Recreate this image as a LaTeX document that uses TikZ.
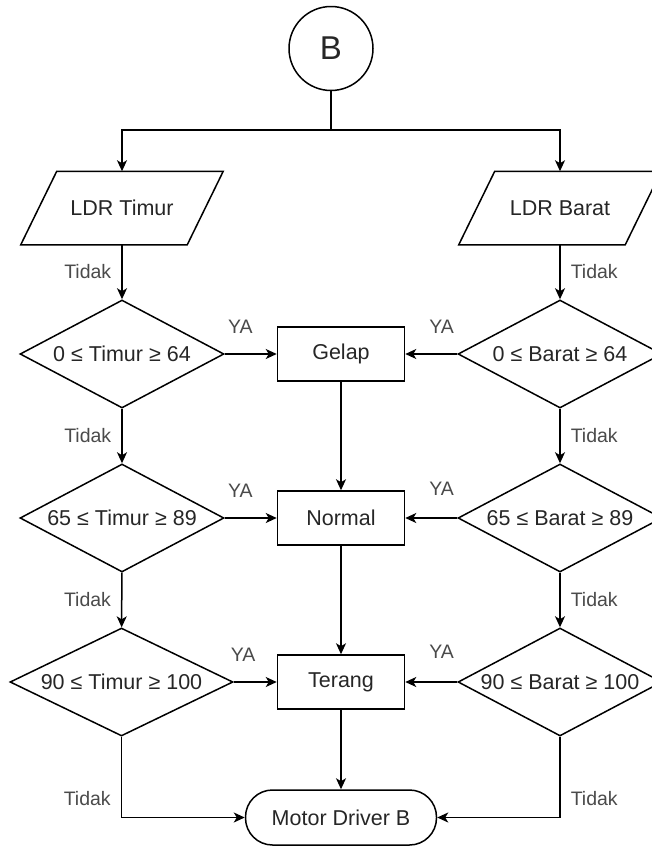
\documentclass[tikz,border=0pt]{standalone}
\usepackage{fontspec}
\setmainfont{Liberation Sans}
\usetikzlibrary{shapes.geometric, arrows.meta}

\definecolor{txt}{HTML}{262626}
\definecolor{lbl}{HTML}{4A4A4A}

\begin{document}
\begin{tikzpicture}[x=1pt, y=-1pt,
  line width=1.5pt,
  every node/.style={font=\fontsize{21.5}{25}\selectfont, text=txt},
  flow/.style={-{Stealth[length=11pt, width=10pt, inset=3pt]}},
  proc/.style={draw, rectangle, minimum width=127pt, minimum height=54pt, inner sep=0pt},
  decide/.style={draw, diamond, minimum width=204pt, minimum height=108pt, inner sep=0pt, aspect=1.9},
  io/.style={rectangle, minimum width=165pt, minimum height=72pt, inner sep=0pt},
  term/.style={draw, rectangle, rounded corners=27pt, minimum width=191pt, minimum height=55pt, inner sep=0pt},
  conn/.style={draw, circle, minimum size=84pt, inner sep=0pt, font=\fontsize{33}{36}\selectfont},
  lab/.style={font=\fontsize{19.5}{21}\selectfont, text=lbl, inner sep=0pt},
]
\clip (0,0) rectangle (652,847);

% connector and inputs
\node[conn] (B) at (331,48.5) {B};
\coordinate (split) at (331,130);

\node[io] (ldrT) at (122,208) {LDR Timur};
\node[io] (ldrB) at (560,208) {LDR Barat};
\foreach \n in {ldrT, ldrB}
  \draw ([xshift=-18pt]\n.south west) -- ([xshift=-18pt]\n.south east)
        -- ([xshift=18pt]\n.north east) -- ([xshift=18pt]\n.north west) -- cycle;

% decisions, east side
\node[decide] (d1T) at (122,354) {0 ≤ Timur ≥ 64};
\node[decide] (d2T) at (122,518) {65 ≤ Timur ≥ 89};
\node[decide, minimum width=223pt, aspect=2.06] (d3T) at (121.5,682) {90 ≤ Timur ≥ 100};

% decisions, west side
\node[decide] (d1B) at (560,354) {0 ≤ Barat ≥ 64};
\node[decide] (d2B) at (560,518) {65 ≤ Barat ≥ 89};
\node[decide] (d3B) at (560,682) {90 ≤ Barat ≥ 100};

% light levels and output
\node[proc] (gelap) at (341,354) {Gelap};
\node[proc] (normal) at (341,518) {Normal};
\node[proc] (terang) at (341,682) {Terang};
\node[term] (motor) at (341,817.5) {Motor Driver B};

% split from the connector
\draw (B) -- (split);
\draw[flow] (split) -| (ldrT);
\draw[flow] (split) -| (ldrB);

% east chain
\draw[flow] (ldrT) -- node[lab, left=10pt] {Tidak} (d1T);
\draw[flow] (d1T) -- node[lab, left=10pt] {Tidak} (d2T);
\draw[flow] (d2T) -- node[lab, left=10pt] {Tidak} (d3T);
\draw[flow] (d3T) |- node[lab, pos=0.38, left=10pt] {Tidak} (motor);

% west chain
\draw[flow] (ldrB) -- node[lab, right=10pt] {Tidak} (d1B);
\draw[flow] (d1B) -- node[lab, right=10pt] {Tidak} (d2B);
\draw[flow] (d2B) -- node[lab, right=10pt] {Tidak} (d3B);
\draw[flow] (d3B) |- node[lab, pos=0.38, right=10pt] {Tidak} (motor);

% YA branches
\draw[flow] (d1T) -- node[lab, pos=0.3, yshift=27pt] {YA} (gelap);
\draw[flow] (d2T) -- node[lab, pos=0.3, yshift=27pt] {YA} (normal);
\draw[flow] (d3T) -- node[lab, pos=0.22, yshift=27pt] {YA} (terang);
\draw[flow] (d1B) -- node[lab, pos=0.3, yshift=27pt] {YA} (gelap);
\draw[flow] (d2B) -- node[lab, pos=0.3, yshift=29pt] {YA} (normal);
\draw[flow] (d3B) -- node[lab, pos=0.3, yshift=30pt] {YA} (terang);

% centre column
\draw[flow] (gelap) -- (normal);
\draw[flow] (normal) -- (terang);
\draw[flow] (terang) -- (motor);
\end{tikzpicture}
\end{document}
